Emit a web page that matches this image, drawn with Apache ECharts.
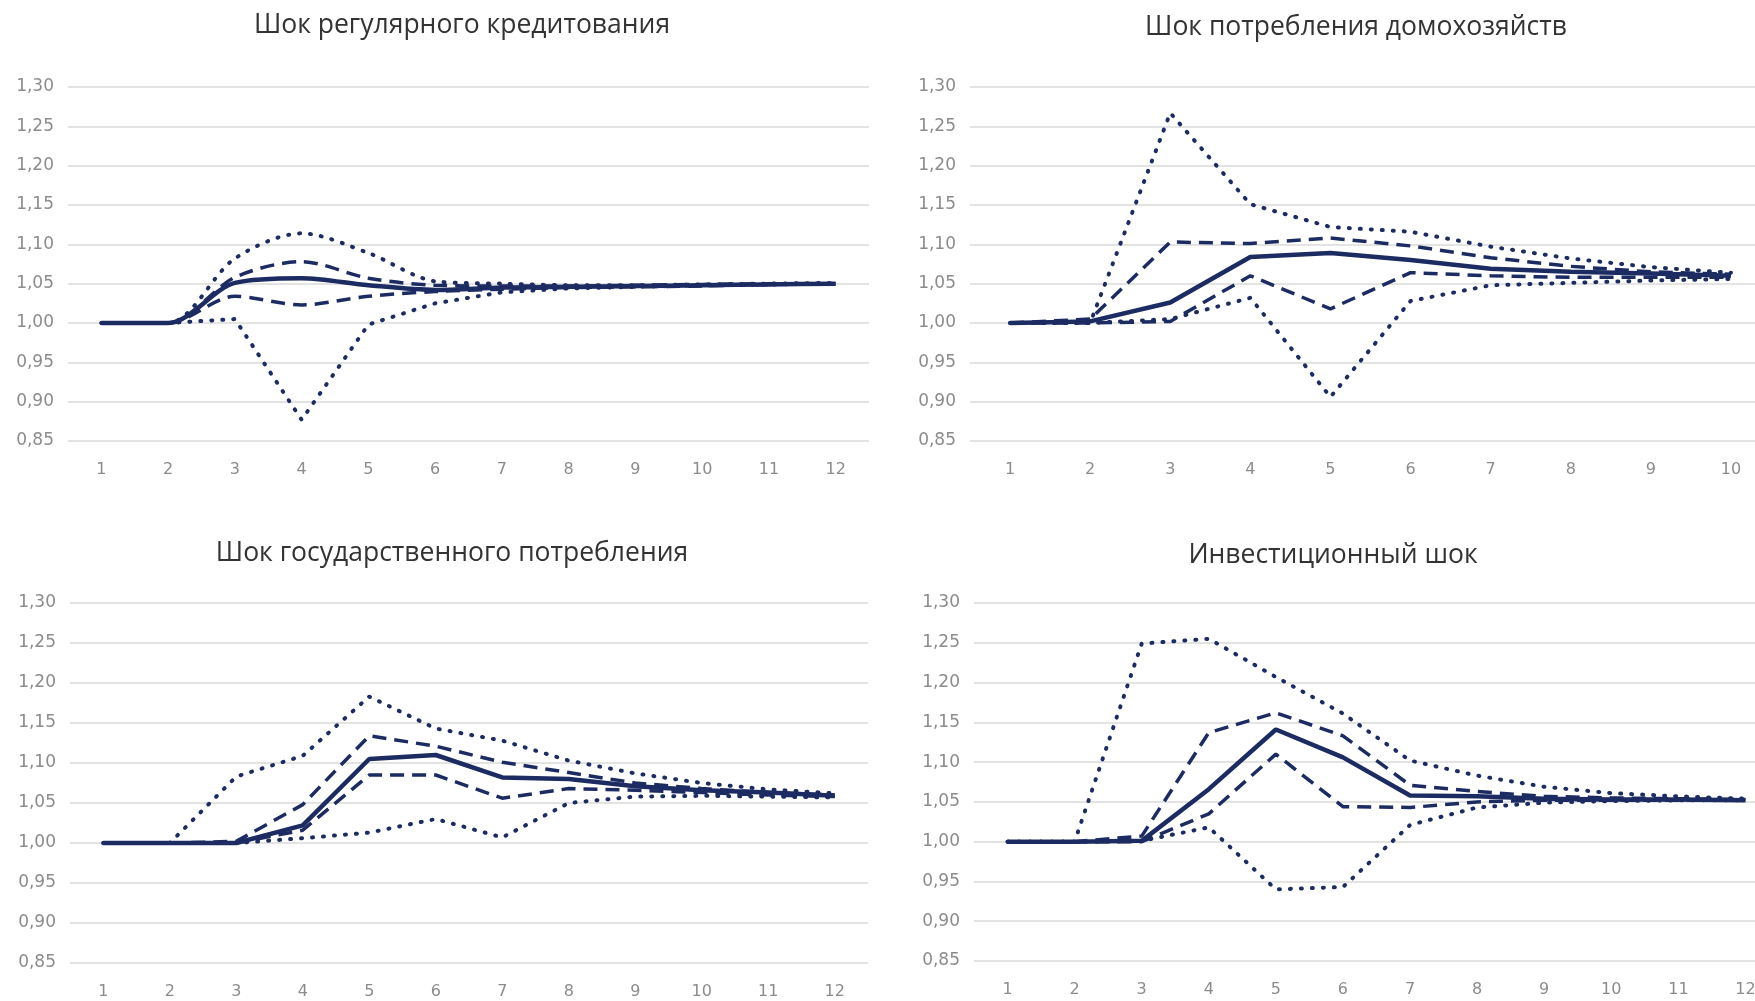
<!DOCTYPE html>
<html>
<head>
<meta charset="utf-8">
<script src="https://cdn.jsdelivr.net/npm/echarts@6/dist/echarts.min.js"></script>
<style>
html,body{margin:0;padding:0;background:#fff;overflow:hidden;width:1755px;height:1001px;}
#c{width:1800px;height:1001px;}
</style>
</head>
<body>
<div id="c"></div>
<script>
// ---- data ----
const cats12 = ['1','2','3','4','5','6','7','8','9','10','11','12'];
const cats10 = ['1','2','3','4','5','6','7','8','9','10'];
const yTicks = [0.85, 0.90, 0.95, 1.00, 1.05, 1.10, 1.15, 1.20, 1.25, 1.30];

const titles = ['Шок регулярного кредитования', 'Шок потребления домохозяйств',
                'Шок государственного потребления', 'Инвестиционный шок'];

// Panel 1: Шок регулярного кредитования
const p1Mid     = [1.000,1.000,1.051,1.057,1.048,1.042,1.045,1.046,1.047,1.048,1.049,1.050];
const p1UpDash  = [1.000,1.000,1.058,1.078,1.057,1.048,1.047,1.047,1.048,1.049,1.050,1.050];
const p1LoDash  = [1.000,1.000,1.034,1.023,1.034,1.040,1.043,1.045,1.046,1.047,1.049,1.050];
const p1UpDot   = [1.000,1.000,1.082,1.114,1.089,1.053,1.050,1.048,1.048,1.049,1.050,1.051];
const p1LoDot   = [1.000,1.000,1.005,0.877,0.998,1.025,1.039,1.044,1.046,1.048,1.049,1.050];

// Panel 2: Шок потребления домохозяйств
const p2Mid     = [1.000,1.002,1.026,1.084,1.089,1.080,1.069,1.065,1.063,1.060];
const p2UpDash  = [1.000,1.005,1.103,1.101,1.108,1.098,1.083,1.072,1.065,1.062];
const p2LoDash  = [1.000,1.000,1.002,1.060,1.018,1.064,1.060,1.058,1.058,1.058];
const p2UpDot   = [1.000,1.000,1.267,1.151,1.122,1.116,1.097,1.082,1.071,1.064];
const p2LoDot   = [1.000,1.000,1.005,1.032,0.906,1.028,1.048,1.051,1.054,1.056];

// Panel 3: Шок государственного потребления
const p3Mid     = [1.000,1.000,1.000,1.022,1.105,1.110,1.082,1.080,1.071,1.066,1.063,1.059];
const p3UpDash  = [1.000,1.000,1.002,1.048,1.134,1.121,1.101,1.088,1.075,1.068,1.063,1.060];
const p3LoDash  = [1.000,1.000,1.000,1.016,1.085,1.085,1.056,1.068,1.066,1.063,1.060,1.058];
const p3UpDot   = [1.000,1.000,1.083,1.109,1.183,1.143,1.128,1.103,1.087,1.075,1.067,1.062];
const p3LoDot   = [1.000,1.000,1.000,1.006,1.013,1.030,1.007,1.050,1.058,1.059,1.058,1.057];

// Panel 4: Инвестиционный шок
const p4Mid     = [1.000,1.000,1.001,1.066,1.141,1.106,1.058,1.057,1.054,1.053,1.053,1.052];
const p4UpDash  = [1.000,1.000,1.007,1.137,1.162,1.133,1.071,1.063,1.057,1.055,1.054,1.053];
const p4LoDash  = [1.000,1.000,1.000,1.035,1.110,1.044,1.043,1.050,1.052,1.052,1.052,1.052];
const p4UpDot   = [1.000,1.000,1.249,1.255,1.207,1.161,1.102,1.083,1.069,1.061,1.057,1.054];
const p4LoDot   = [1.000,1.000,1.001,1.018,0.940,0.943,1.021,1.043,1.049,1.051,1.052,1.052];

// ---- layout / style ----
const NAVY = '#1c2b62';
const grids = [
  {left: 68,  top: 87,  width: 801, height: 354},
  {left: 970, top: 87,  width: 801, height: 354},
  {left: 70,  top: 603, width: 798, height: 360},
  {left: 974, top: 603, width: 805, height: 358}
];
const titlePos = [[462, 25], [1356, 27], [452, 553], [1333, 555]];
// smoothing per panel, per series (upDot, loDot, upDash, loDash, mid)
const panelSmooth = [
  [0.3, false, 0.3, 0.3, 0.3],
  [false, false, false, false, false],
  [false, false, false, false, false],
  [false, false, false, false, false]
];
const panelCats = [cats12, cats10, cats12, cats12];
const panelData = [
  [p1UpDot, p1LoDot, p1UpDash, p1LoDash, p1Mid],
  [p2UpDot, p2LoDot, p2UpDash, p2LoDash, p2Mid],
  [p3UpDot, p3LoDot, p3UpDash, p3LoDash, p3Mid],
  [p4UpDot, p4LoDot, p4UpDash, p4LoDash, p4Mid]
];
const lineStyles = [
  {color: NAVY, width: 4, type: [1, 10], cap: 'round'},
  {color: NAVY, width: 4, type: [1, 10], cap: 'round'},
  {color: NAVY, width: 3.5, type: [14, 8]},
  {color: NAVY, width: 3.5, type: [14, 8]},
  {color: NAVY, width: 4.5, type: 'solid'}
];

const xAxes = [], yAxes = [], series = [], graphics = [];
grids.forEach((g, i) => {
  xAxes.push({
    type: 'category', gridIndex: i, data: panelCats[i], boundaryGap: true,
    axisLine: {show: false}, axisTick: {show: false},
    axisLabel: {color: '#8c8c8c', fontFamily: 'DejaVu Sans', fontSize: 16, margin: 21},
    splitLine: {show: false}
  });
  yAxes.push({
    type: 'value', gridIndex: i, min: yTicks[0], max: yTicks[yTicks.length - 1], interval: 0.05,
    axisLine: {show: false}, axisTick: {show: false},
    axisLabel: {color: '#8c8c8c', fontFamily: 'DejaVu Sans', fontSize: 17, margin: 14,
                formatter: v => v.toFixed(2).replace('.', ',')},
    splitLine: {show: true, lineStyle: {color: '#dadada', width: 1.5}}
  });
  panelData[i].forEach((arr, k) => {
    series.push({
      type: 'line', xAxisIndex: i, yAxisIndex: i, data: arr,
      showSymbol: false, symbol: 'none', smooth: panelSmooth[i][k],
      lineStyle: lineStyles[k], z: 2 + k
    });
  });
  graphics.push({
    type: 'text', x: titlePos[i][0], y: titlePos[i][1],
    style: {text: titles[i], font: '26.5px "Open Sans"', fill: '#333333',
            align: 'center', verticalAlign: 'middle',
            textAlign: 'center', textVerticalAlign: 'middle'}
  });
});

const chart = echarts.init(document.getElementById('c'), null, {renderer: 'canvas'});
chart.setOption({
  animation: false,
  backgroundColor: '#ffffff',
  grid: grids,
  xAxis: xAxes,
  yAxis: yAxes,
  series: series,
  graphic: graphics
});
</script>
</body>
</html>
